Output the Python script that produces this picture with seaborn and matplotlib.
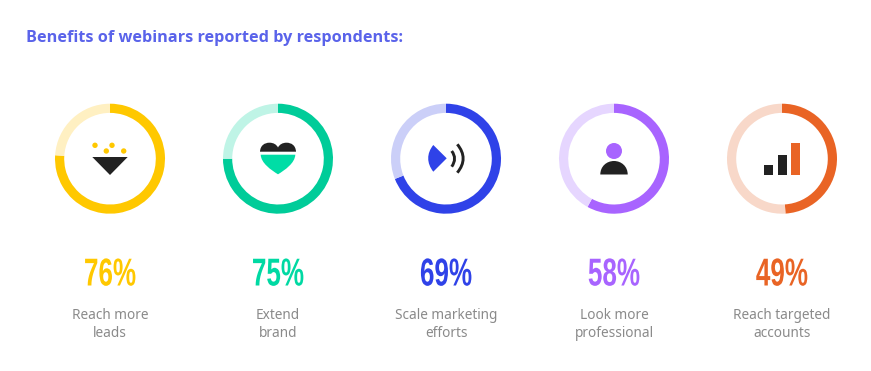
import matplotlib
matplotlib.use("Agg")
import matplotlib.pyplot as plt
import matplotlib.patheffects as pe
from matplotlib.patches import Circle, PathPatch, Polygon, Rectangle
from matplotlib.path import Path
from matplotlib.transforms import Affine2D
import seaborn as sns

title = "Benefits of webinars reported by respondents:"
labels = ["Reach more\nleads", "Extend\nbrand", "Scale marketing\nefforts",
          "Look more\nprofessional", "Reach targeted\naccounts"]
values = [76, 75, 69, 58, 49]
colors = ["#FFC800", "#00CC99", "#2F42E8", "#A864FF", "#E96425"]
pale_colors = ["#FFF0C2", "#BFF4E6", "#CBCFF8", "#E6D6FF", "#F8D8C9"]
text_colors = ["#FFC800", "#00D9A3", "#2F42E8", "#A864FF", "#E96425"]
DARK = "#222222"

sns.set_theme(style="white")
W, H = 871, 371
fig = plt.figure(figsize=(W / 100, H / 100), dpi=100, facecolor="white")

centres = [110, 278, 446, 614, 782]
CY, R = 158.7, 55


class Squeeze(pe.AbstractPathEffect):
    """Condense the glyphs horizontally about a fixed display x."""
    def __init__(self, cx, sx):
        super().__init__()
        self.cx, self.sx = cx, sx

    def draw_path(self, renderer, gc, tpath, affine, rgbFace=None):
        squeeze = Affine2D().translate(-self.cx, 0).scale(self.sx, 1).translate(self.cx, 0)
        renderer.draw_path(gc, tpath, affine + squeeze, rgbFace)


# Donuts
palette = sns.color_palette(colors)
pale = sns.color_palette(pale_colors)
for cx, v, c, p in zip(centres, values, palette, pale):
    ax = fig.add_axes([(cx - R) / W, 1 - (CY + R) / H, 2 * R / W, 2 * R / H])
    ax.pie([v, 100 - v], colors=[c, p], startangle=90, counterclock=False, radius=1,
           wedgeprops=dict(width=9.2 / R, linewidth=0))
    ax.set_xlim(-1, 1)
    ax.set_ylim(-1, 1)
    ax.set_aspect("equal")
    sns.despine(ax=ax, left=True, bottom=True)

# Overlay in pixel coordinates
ov = fig.add_axes([0, 0, 1, 1], facecolor="none")
ov.set_xlim(0, W)
ov.set_ylim(H, 0)
ov.axis("off")

ov.text(26, 38.5, title, color="#5A63EA", fontsize=11.72, fontweight="bold",
        family="Open Sans", va="center", ha="left")

for cx, v, lab, tc in zip(centres, values, labels, text_colors):
    disp_x = cx / W * fig.bbox.width
    ov.text(cx, 285.5, f"{v}%", color=tc, fontsize=28, fontweight="bold",
            family=["Liberation Sans Narrow", "Liberation Sans"], ha="center", va="baseline",
            path_effects=[Squeeze(disp_x, 0.67)])
    ov.text(cx, 324.5, lab, color="#8A8A8A", fontsize=9.8, family="Noto Sans",
            ha="center", va="center", linespacing=1.2)

# Icon 1: funnel with dots
ov.add_patch(Polygon([(92.3, 157), (127.7, 157), (110, 175)], fc=DARK, lw=0))
for x, y in [(95, 145.3), (112, 145.3), (106.3, 151), (123.7, 151)]:
    ov.add_patch(Circle((x, y), 2.7, fc=colors[0], lw=0))

# Icon 2: heart
M, L2, C3, C4 = Path.MOVETO, Path.LINETO, Path.CURVE3, Path.CURVE4
top = Path([(260, 151.7), (260.3, 145.5), (264.5, 142.7), (269.5, 142.7), (273.5, 142.7), (276.5, 144.5),
            (278, 147.5), (279.5, 144.5), (282.5, 142.7), (286.5, 142.7), (291.5, 142.7), (295.7, 145.5),
            (296, 151.7), (260, 151.7)],
           [M, C4, C4, C4, C4, C4, C4, C4, C4, C4, C4, C4, C4, L2])
ov.add_patch(PathPatch(top, fc=DARK, lw=0))
bottom = Path([(260.7, 154.7), (295.3, 154.7), (295, 163), (285, 170), (278, 174.3),
               (271, 170), (261, 163), (260.7, 154.7)],
              [M, L2, C4, C4, C4, C4, C4, C4])
ov.add_patch(PathPatch(bottom, fc="#00DDA6", lw=0))

# Icon 3: speaker
wedge = Path([(433.3, 145), (446.7, 158.3), (433.3, 171.7), (426.5, 163), (426.5, 153.5), (433.3, 145)],
             [M, L2, L2, C4, C4, C4])
ov.add_patch(PathPatch(wedge, fc=colors[2], lw=0))
for pts in [[(451.7, 151), (457.5, 158.5), (451.7, 166.7)],
            [(457.3, 144.3), (469, 158.5), (457.3, 172.7)]]:
    ov.add_patch(PathPatch(Path(pts, [M, C3, C3]), fc="none", ec=DARK, lw=2.1, capstyle="butt"))

# Icon 4: person
ov.add_patch(Circle((614, 151), 8, fc=colors[3], lw=0))
body = Path([(600.3, 174.5), (600.3, 166.5), (606.5, 161), (614, 161), (621.5, 161), (627.7, 166.5),
             (627.7, 174.5), (600.3, 174.5)], [M, C4, C4, C4, C4, C4, C4, L2])
ov.add_patch(PathPatch(body, fc=DARK, lw=0))

# Icon 5: bars
for x, y, w, col in [(764, 165, 9.3, DARK), (778, 155, 9, DARK), (791, 143, 9, colors[4])]:
    ov.add_patch(Rectangle((x, y), w, 175 - y, fc=col, lw=0))

fig.savefig("out.png", dpi=100, facecolor="white")
